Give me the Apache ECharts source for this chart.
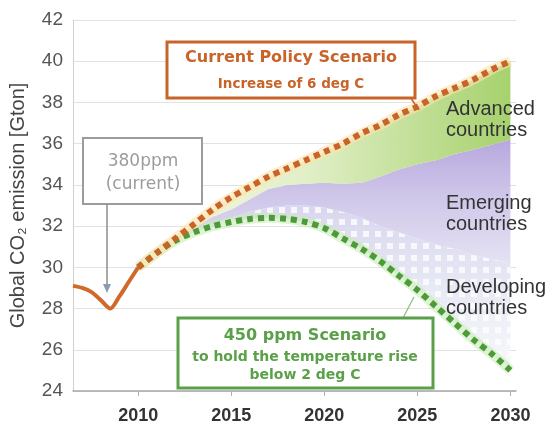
<!DOCTYPE html>
<html>
<head>
<meta charset="utf-8">
<script src="https://cdn.jsdelivr.net/npm/echarts@6/dist/echarts.min.js"></script>
<style>
  html, body { margin: 0; padding: 0; background: #ffffff; }
  #chart { width: 556px; height: 425px; }
</style>
</head>
<body>
<div id="chart"></div>
<script>
// Historical emissions (Gt CO2)
const historyYears  = [2006.5, 2007, 2007.5, 2008, 2008.5, 2009, 2009.5, 2010];
const historyValues = [29.1, 29.0, 28.8, 28.4, 28.0, 28.6, 29.3, 30.0];

// Projection years
const scenarioYears = [2010, 2011, 2012, 2013, 2014, 2015, 2016, 2017, 2018, 2019, 2020,
                       2021, 2022, 2023, 2024, 2025, 2026, 2027, 2028, 2029, 2030];

// Current Policy Scenario (upper dotted path)
const currentPolicy = [30.0, 30.7, 31.4, 32.1, 32.8, 33.4, 33.9, 34.4, 34.8, 35.2, 35.6,
                       36.0, 36.5, 36.9, 37.4, 37.8, 38.3, 38.7, 39.1, 39.6, 40.0];
// 450 ppm Scenario (lower dotted path)
const scenario450   = [30.0, 30.7, 31.3, 31.7, 32.0, 32.2, 32.35, 32.4, 32.35, 32.2, 31.9,
                       31.4, 30.9, 30.3, 29.6, 28.9, 28.1, 27.3, 26.5, 25.8, 25.0];
// Upper edge of the reduction share of developing countries
const developingTop = [30.0, 30.7, 31.32, 31.8, 32.1, 32.4, 32.7, 32.9, 33.0, 33.0, 32.9,
                       32.7, 32.4, 32.0, 31.7, 31.4, 31.1, 30.9, 30.6, 30.4, 30.2];
// Upper edge of the reduction share of emerging countries
const emergingTop   = [30.0, 30.7, 31.35, 31.95, 32.45, 32.8, 33.3, 33.8, 34.0, 34.05, 34.1,
                       34.05, 34.1, 34.4, 34.75, 35.0, 35.2, 35.5, 35.7, 35.95, 36.2];

// Axis ticks
const xTickYears = [2010, 2015, 2020, 2025, 2030];
const yMin = 24, yMax = 42, yStep = 2;

const pairs = (xs, ys) => xs.map((x, i) => [x, ys[i]]);

// Sparse white squares laid over the developing-countries band
const tile = document.createElement('canvas');
tile.width = 12; tile.height = 12;
const tctx = tile.getContext('2d');
tctx.fillStyle = 'rgba(255,255,255,0.8)';
tctx.fillRect(3, 3, 6, 6);

// A filled band between two yearly series, drawn through the axis scales
function bandSeries(name, lower, upper, fills, z) {
  return {
    name: name,
    type: 'custom',
    z: z,
    silent: true,
    clip: true,
    data: scenarioYears.map((x, i) => [x, lower[i], upper[i]]),
    encode: { x: 0, y: [1, 2] },
    renderItem: function (params, api) {
      if (params.dataIndex !== 0) return null;
      const top = scenarioYears.map((x, i) => api.coord([x, upper[i]]));
      const bottom = scenarioYears.map((x, i) => api.coord([x, lower[i]])).reverse();
      const pts = top.concat(bottom);
      return {
        type: 'group',
        children: fills.map(f => ({
          type: 'polygon',
          shape: { points: pts },
          style: { fill: f, opacity: 0.95 }
        }))
      };
    }
  };
}

const chart = echarts.init(document.getElementById('chart'), null, { renderer: 'canvas' });

const option = {
  animation: false,
  backgroundColor: '#ffffff',
  grid: { left: 70, right: 40, top: 20, bottom: 32 },
  xAxis: {
    type: 'value',
    min: 2006.5,
    max: 2030.3,
    axisLine: { show: true, lineStyle: { color: '#a8a8a8', width: 1.5 } },
    axisTick: { show: true, customValues: xTickYears, length: 5, lineStyle: { color: '#b0b0b0' } },
    axisLabel: {
      customValues: xTickYears,
      formatter: v => String(v),
      fontFamily: 'Liberation Sans, Arial, sans-serif',
      fontSize: 18, fontWeight: 'bold', color: '#333333', margin: 16
    },
    splitLine: { show: false }
  },
  yAxis: {
    type: 'value',
    min: yMin, max: yMax, interval: yStep,
    name: 'Global CO\u2082 emission [Gton]',
    nameLocation: 'middle',
    nameGap: 45,
    nameTextStyle: { fontFamily: 'Liberation Sans, Arial, sans-serif', fontSize: 20, color: '#444444' },
    axisLine: { show: true, lineStyle: { color: '#d0d0d0', width: 1 } },
    axisTick: { show: false },
    axisLabel: { fontFamily: 'Liberation Sans, Arial, sans-serif', fontSize: 19, color: '#555555', margin: 10 },
    splitLine: { show: true, lineStyle: { color: '#e2e2e2', width: 1 } }
  },
  series: [
    // reduction shares between the two scenarios
    bandSeries('Developing countries', scenario450, developingTop, [
      new echarts.graphic.LinearGradient(0, 0, 0, 1, [
        { offset: 0, color: '#d6d4ee' }, { offset: 0.5, color: '#e6e8f4' }, { offset: 1, color: '#f8f8fc' }
      ]),
      { image: tile, repeat: 'repeat' }
    ], 1),
    bandSeries('Emerging countries', developingTop, emergingTop, [
      new echarts.graphic.LinearGradient(0, 0, 0, 1, [
        { offset: 0, color: '#b3a3dc' }, { offset: 0.45, color: '#cdc4e8' }, { offset: 1, color: '#e4e2f3' }
      ])
    ], 1),
    bandSeries('Advanced countries', emergingTop, currentPolicy, [
      new echarts.graphic.LinearGradient(0, 0, 1, 0, [
        { offset: 0, color: '#f6f8e6' }, { offset: 0.45, color: '#e0eec4' }, { offset: 1, color: '#a2cf66' }
      ])
    ], 1),

    // soft glow under the dotted scenario paths
    { type: 'line', z: 2, data: pairs(scenarioYears, scenario450), symbol: 'none', smooth: 0.3, silent: true,
      lineStyle: { color: 'rgba(200,238,182,0.6)', width: 10 } },
    { type: 'line', z: 2, data: pairs(scenarioYears, currentPolicy), symbol: 'none', smooth: 0.3, silent: true,
      lineStyle: { color: 'rgba(255,226,170,0.6)', width: 10 } },

    // scenario paths
    { name: '450 ppm Scenario', type: 'line', z: 3, data: pairs(scenarioYears, scenario450), symbol: 'none', smooth: 0.3,
      lineStyle: { color: '#4e9a3a', width: 6, type: [6, 5], cap: 'butt' } },
    { name: 'Current Policy Scenario', type: 'line', z: 3, data: pairs(scenarioYears, currentPolicy), symbol: 'none', smooth: 0.3,
      lineStyle: { color: '#c8642a', width: 6, type: [6, 5], cap: 'butt' } },

    // historical emissions
    { name: 'History', type: 'line', z: 3, data: pairs(historyYears, historyValues), symbol: 'none', smooth: 0.3,
      lineStyle: { color: '#d0692a', width: 4 } }
  ],
  graphic: {
    elements: [
      // Current Policy Scenario callout
      { type: 'line', shape: { x1: 410, y1: 97, x2: 419, y2: 110 }, style: { stroke: '#c8642a', lineWidth: 1.5 }, z: 10 },
      { type: 'rect', shape: { x: 167, y: 42, width: 248, height: 56 },
        style: { fill: '#ffffff', stroke: '#c8642a', lineWidth: 3 }, z: 10 },
      { type: 'text', z: 11, style: { text: 'Current Policy Scenario', x: 291, y: 58, align: 'center', verticalAlign: 'middle',
        fontFamily: 'DejaVu Sans', fontWeight: 'bold', fontSize: 16, fill: '#c8642a' } },
      { type: 'text', z: 11, style: { text: 'Increase of 6 deg C', x: 291, y: 84, align: 'center', verticalAlign: 'middle',
        fontFamily: 'DejaVu Sans', fontWeight: 'bold', fontSize: 13.5, fill: '#c8642a' } },

      // 380ppm callout with arrow
      { type: 'rect', shape: { x: 83, y: 138, width: 119, height: 66 },
        style: { fill: '#ffffff', stroke: '#9c9c9c', lineWidth: 2 }, z: 10 },
      { type: 'text', z: 11, style: { text: '380ppm', x: 143, y: 162, align: 'center', verticalAlign: 'middle',
        fontFamily: 'DejaVu Sans', fontSize: 17, fill: '#9c9c9c' } },
      { type: 'text', z: 11, style: { text: '(current)', x: 143, y: 185, align: 'center', verticalAlign: 'middle',
        fontFamily: 'DejaVu Sans', fontSize: 17, fill: '#9c9c9c' } },
      { type: 'line', shape: { x1: 107, y1: 204, x2: 107, y2: 286 }, style: { stroke: '#8c8c8c', lineWidth: 1.5 }, z: 10 },
      { type: 'polygon', shape: { points: [[103, 284], [111, 284], [107, 293]] }, style: { fill: '#8a9cb4' }, z: 10 },

      // 450 ppm Scenario callout
      { type: 'line', shape: { x1: 403, y1: 318, x2: 414, y2: 297 }, style: { stroke: '#8cbc78', lineWidth: 1.2 }, z: 10 },
      { type: 'rect', shape: { x: 178, y: 318, width: 255, height: 70 },
        style: { fill: '#ffffff', stroke: '#5aa048', lineWidth: 3 }, z: 10 },
      { type: 'text', z: 11, style: { text: '450 ppm Scenario', x: 305, y: 336, align: 'center', verticalAlign: 'middle',
        fontFamily: 'DejaVu Sans', fontWeight: 'bold', fontSize: 16, fill: '#5aa048' } },
      { type: 'text', z: 11, style: { text: 'to hold the temperature rise', x: 305, y: 357, align: 'center', verticalAlign: 'middle',
        fontFamily: 'DejaVu Sans', fontWeight: 'bold', fontSize: 14, fill: '#5aa048' } },
      { type: 'text', z: 11, style: { text: 'below 2 deg C', x: 305, y: 375, align: 'center', verticalAlign: 'middle',
        fontFamily: 'DejaVu Sans', fontWeight: 'bold', fontSize: 14, fill: '#5aa048' } },

      // band labels
      { type: 'text', z: 11, style: { text: 'Advanced\ncountries', x: 446, y: 120, align: 'left', verticalAlign: 'middle',
        fontFamily: 'Liberation Sans', fontSize: 20, lineHeight: 21, fill: '#333333' } },
      { type: 'text', z: 11, style: { text: 'Emerging\ncountries', x: 446, y: 214, align: 'left', verticalAlign: 'middle',
        fontFamily: 'Liberation Sans', fontSize: 20, lineHeight: 21, fill: '#333333' } },
      { type: 'text', z: 11, style: { text: 'Developing\ncountries', x: 446, y: 298, align: 'left', verticalAlign: 'middle',
        fontFamily: 'Liberation Sans', fontSize: 20, lineHeight: 21, fill: '#333333' } }
    ]
  }
};

chart.setOption(option);
</script>
</body>
</html>
